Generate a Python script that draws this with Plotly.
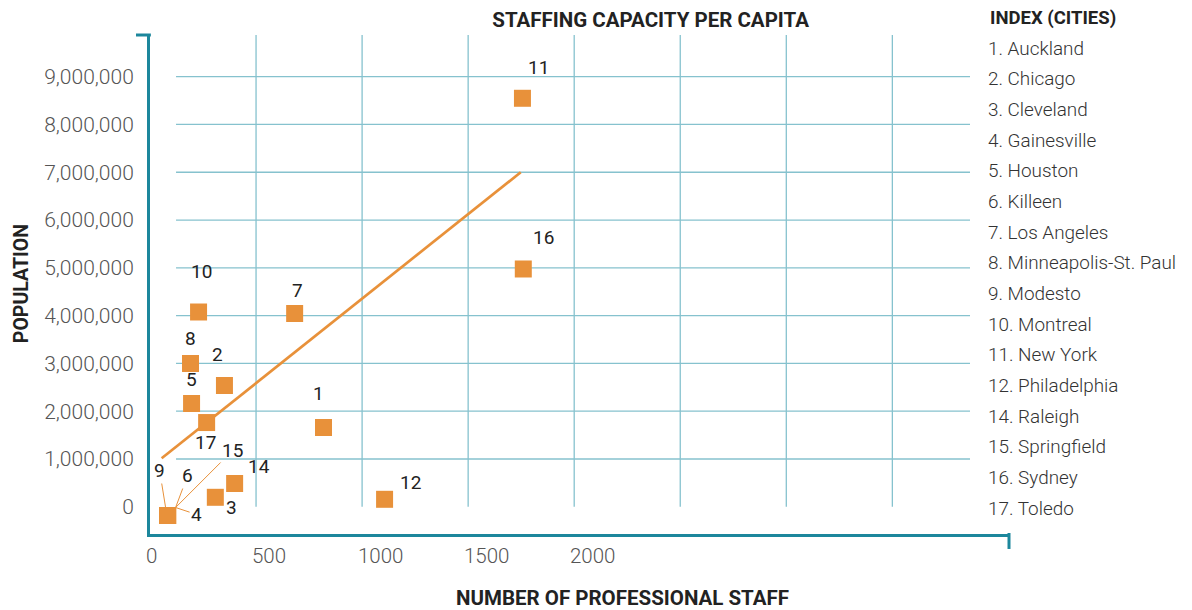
import plotly.graph_objects as go

# ---------------- data ----------------
city_index = [1, 2, 3, 4, 5, 6, 7, 8, 9, 10, 11, 12, 14, 15, 16, 17]
city_names = ["Auckland", "Chicago", "Cleveland", "Gainesville", "Houston", "Killeen",
              "Los Angeles", "Minneapolis-St. Paul", "Modesto", "Montreal", "New York",
              "Philadelphia", "Raleigh", "Springfield", "Sydney", "Toledo"]
professional_staff = [818, 351, 308, 83, 196, 83, 682, 191, 83, 229, 1756, 1106, 399, 83, 1760, 267]
population = [1659000, 2538000, 199000, -182000, 2162000, -182000, 4045000, 2999000, -182000,
              4076000, 8548000, 157000, 488000, -182000, 4976000, 1763000]

trend_staff = [55, 1748]
trend_population = [1015000, 7000000]

x_ticks = [0, 500, 1000, 1500, 2000]
x_grid = [500, 1000, 1500, 2000, 2500, 3000, 3500]
y_ticks = [0, 1000000, 2000000, 3000000, 4000000, 5000000, 6000000, 7000000, 8000000, 9000000]

# ---------------- style ----------------
ORANGE = "#E8913A"
AXIS = "#1C879C"
GRID = "#86C2CE"
FONT = "Roboto"

X_RANGE = [0, 4050]
Y_RANGE = [-569000, 9872000]

# pixel offsets of the number labels relative to their marker (dx right, dy up)
label_offsets = {1: (-5, 34), 2: (-7, 31), 3: (16, -10), 5: (0, 24), 7: (3, 23), 8: (0, 25),
                 10: (3, 41), 11: (16, 31), 12: (26, 17), 14: (24, 17), 16: (20, 31), 17: (-1, -20)}
# labels with leader lines: (xshift, yshift of tip, ax, ay)
leader_labels = {9: (-2, 8, -6, -37), 6: (8, 8, 12, -32), 15: (8, 8, 57, -57), 4: (8, 8, 21, 7)}

fig = go.Figure()

fig.add_trace(go.Scatter(
    x=trend_staff, y=trend_population, mode="lines",
    line=dict(color=ORANGE, width=2.7), hoverinfo="skip", showlegend=False))

fig.add_trace(go.Scatter(
    x=professional_staff, y=population, mode="markers",
    marker=dict(symbol="square", size=17, color=ORANGE, line=dict(width=0)),
    text=[f"{i}. {n}" for i, n in zip(city_index, city_names)],
    hoverinfo="text", showlegend=False))

shapes = []
for v in x_grid:
    shapes.append(dict(type="line", xref="x", yref="y", x0=v, x1=v, y0=0, y1=Y_RANGE[1],
                       line=dict(color=GRID, width=1.3), layer="below"))
for v in y_ticks[1:]:
    shapes.append(dict(type="line", xref="paper", yref="y", x0=0.0303, x1=0.9546, y0=v, y1=v,
                       line=dict(color=GRID, width=1.3), layer="below"))
shapes.append(dict(type="line", xref="paper", yref="paper", x0=-0.0163, x1=0.001, y0=1, y1=1,
                   line=dict(color=AXIS, width=3)))
shapes.append(dict(type="line", xref="paper", yref="paper", x0=1, x1=1, y0=0.002, y1=-0.030,
                   line=dict(color=AXIS, width=3)))

annotations = []
for idx, xs, ys in zip(city_index, professional_staff, population):
    if idx in label_offsets:
        dx, dy = label_offsets[idx]
        annotations.append(dict(x=xs, y=ys, xref="x", yref="y", text=str(idx), showarrow=False,
                                xshift=dx, yshift=dy, xanchor="center", yanchor="middle",
                                font=dict(family=FONT, size=19, color="#222")))
    elif idx in leader_labels:
        sx, sy, ax, ay = leader_labels[idx]
        annotations.append(dict(x=xs, y=ys, xref="x", yref="y", text=str(idx), showarrow=True,
                                arrowhead=0, arrowwidth=1, arrowcolor=ORANGE, standoff=0,
                                ax=ax, ay=ay, xshift=sx, yshift=sy,
                                font=dict(family=FONT, size=19, color="#222")))

for v in x_ticks:
    annotations.append(dict(x=v, y=-0.044, xref="x", yref="paper", text=str(v), showarrow=False,
                            xanchor="left", yanchor="middle", xshift=-6,
                            font=dict(family=FONT, size=20.5, color="#555", weight=300)))

annotations.append(dict(x=0.9756, y=1.034, xref="paper", yref="paper", text="<b>INDEX (CITIES)</b>",
                        showarrow=False, xanchor="left", yanchor="middle",
                        font=dict(family=FONT, size=18.5, color="#222")))
for k, (i, n) in enumerate(zip(city_index, city_names)):
    py = 48 + k * 30.67
    annotations.append(dict(x=0.9735, y=(534 - py) / 499, xref="paper", yref="paper",
                            text=f"{i}. {n}", showarrow=False, xanchor="left", yanchor="middle",
                            font=dict(family=FONT, size=18.9, color="#333", weight=300)))

annotations.append(dict(x=0.550, y=-0.129, xref="paper", yref="paper",
                        text="<b>NUMBER OF PROFESSIONAL STAFF</b>", showarrow=False,
                        xanchor="center", yanchor="middle", borderpad=0,
                        font=dict(family=FONT, size=20.5, color="#222")))
annotations.append(dict(x=-0.150, y=0.501, xref="paper", yref="paper",
                        text="<b>POPULATION</b>", showarrow=False, textangle=-90,
                        xanchor="center", yanchor="middle", borderpad=0,
                        font=dict(family=FONT, size=19.5, color="#222")))

# the page adds an 8px body margin, so the figure is laid out 8px smaller
fig.update_layout(
    width=1184, height=602,
    margin=dict(l=142, r=183, t=27, b=76),
    paper_bgcolor="white", plot_bgcolor="white",
    title=dict(text="<b>STAFFING CAPACITY PER CAPITA</b>", x=0.5828, xref="paper", xanchor="center",
               y=1 - 12 / 602, yref="container", yanchor="middle",
               font=dict(family=FONT, size=20.5, color="#222")),
    xaxis=dict(range=X_RANGE, showgrid=False, zeroline=False, showticklabels=False, ticks="",
               showline=True, linecolor=AXIS, linewidth=3, fixedrange=True),
    yaxis=dict(range=Y_RANGE, showgrid=False, zeroline=False, tickvals=y_ticks, tickformat=",d",
               ticks="outside", ticklen=9, tickcolor="rgba(0,0,0,0)",
               tickfont=dict(family=FONT, size=21, color="#555", weight=300),
               showline=True, linecolor=AXIS, linewidth=3, fixedrange=True),
    shapes=shapes, annotations=annotations,
    font=dict(family=FONT),
)

fig.write_html("out.html")
